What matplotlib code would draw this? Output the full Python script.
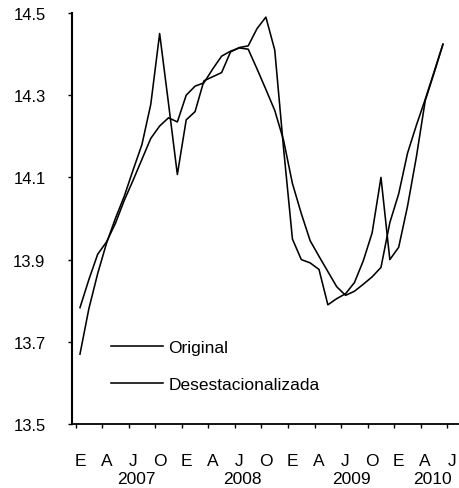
import matplotlib
matplotlib.use('Agg')
import matplotlib.pyplot as plt
import matplotlib.transforms as mtransforms

plt.rcParams['font.family'] = ['Liberation Sans', 'DejaVu Sans']

# monthly series, Jan 2007 .. Jun 2010
original = [13.67, 13.78, 13.866, 13.94, 14.0, 14.054, 14.118, 14.18, 14.278, 14.45,
            14.28, 14.107, 14.24, 14.26, 14.335, 14.345, 14.355, 14.405, 14.416, 14.42,
            14.462, 14.49, 14.41, 14.17, 13.95, 13.90, 13.892, 13.876, 13.79, 13.805,
            13.817, 13.844, 13.897, 13.965, 14.10, 13.90, 13.93, 14.03, 14.15, 14.287,
            14.354, 14.424]
desest = [13.783, 13.851, 13.913, 13.943, 13.988, 14.044, 14.093, 14.144, 14.195, 14.225,
          14.245, 14.235, 14.30, 14.322, 14.33, 14.364, 14.395, 14.407, 14.415, 14.412,
          14.364, 14.314, 14.263, 14.19, 14.085, 14.012, 13.946, 13.908, 13.871, 13.834,
          13.813, 13.823, 13.84, 13.858, 13.881, 13.99, 14.06, 14.159, 14.227, 14.29,
          14.357, 14.424]
month_labels = ['E', 'A', 'J', 'O'] * 3 + ['E', 'A', 'J']
years = ['2007', '2008', '2009', '2010']
year_pos = [6.4, 18.4, 30.7, 39.8]

months = list(range(len(original)))

fig = plt.figure(figsize=(4.59, 4.89), dpi=100)
ax = fig.add_axes([72 / 459, 64 / 489, 386 / 459, 411 / 489])

ax.plot(months, original, color='black', lw=1.15, label='Original')
ax.plot(months, desest, color='black', lw=1.15, label='Desestacionalizada')

ax.set_xlim(-0.9, 42.7)
ax.set_ylim(13.5, 14.5)
ax.set_yticks([13.5, 13.7, 13.9, 14.1, 14.3, 14.5])
ax.set_yticklabels(['13.5', '13.7', '13.9', '14.1', '14.3', '14.5'], fontsize=12)
ax.tick_params(axis='y', length=3, width=1, pad=16)
ax.set_xticks([3 * k - 0.5 for k in range(15)])
ax.set_xticklabels([])
ax.tick_params(axis='x', length=3, width=1)

for s in ['top', 'right']:
    ax.spines[s].set_visible(False)
ax.spines['left'].set_linewidth(1.5)
ax.spines['bottom'].set_linewidth(1.3)

trans = mtransforms.blended_transform_factory(ax.transData, ax.transAxes)
for k, lab in enumerate(month_labels):
    ax.text(3 * k, -0.09, lab, transform=trans, ha='center', va='center', fontsize=12.5)
for y, p in zip(years, year_pos):
    ax.text(p, -0.133, y, transform=trans, ha='center', va='center', fontsize=12.5)

ax.legend(loc='upper left', bbox_to_anchor=(0.083, 0.222), frameon=False, fontsize=12.5,
          handlelength=3.0, handletextpad=0.3, labelspacing=1.25, borderaxespad=0)

fig.savefig('out.png', dpi=100)
